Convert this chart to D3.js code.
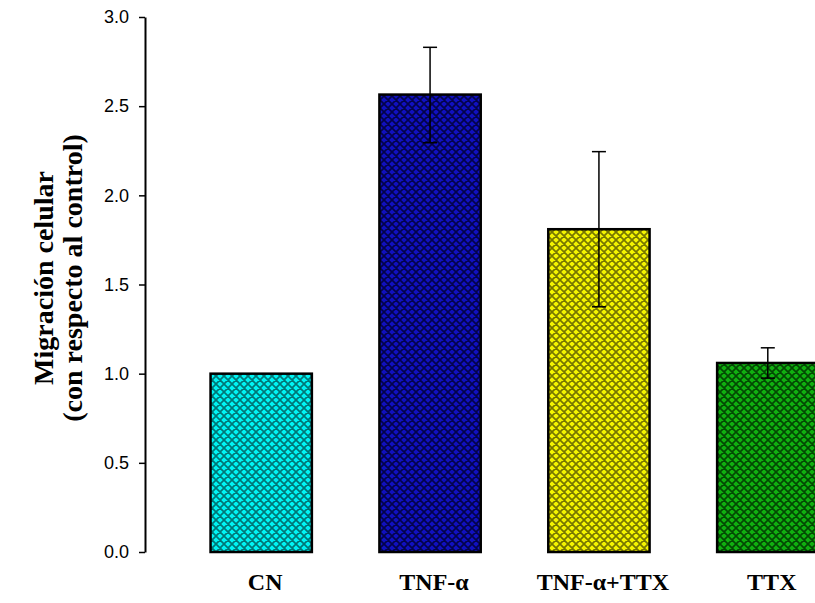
<!DOCTYPE html>
<html lang="es">
<head>
<meta charset="UTF-8">
<title>Migración celular</title>
<script src="https://d3js.org/d3.v7.min.js"></script>
<style>
    body { margin: 0; background: #fff; }
    .tick text { font-family: "Liberation Sans", Arial, sans-serif; font-size: 18px; fill: #000; }
    .cat { font-family: "Liberation Serif", "Times New Roman", serif; font-weight: bold; font-size: 24px; }
    .ytitle { font-family: "Liberation Serif", "Times New Roman", serif; font-weight: bold; font-size: 28px; }
</style>
</head>
<body>
<svg id="chart" width="815" height="603"></svg>
<script>
    // data
    const categories = ["CN", "TNF-\u03b1", "TNF-\u03b1+TTX", "TTX"];
    const means = [1.0, 2.565, 1.81, 1.06];
    const errUp = [null, 2.83, 2.245, 1.145];
    const errDown = [null, 2.295, 1.375, 0.975];
    const yTicks = [0, 0.5, 1.0, 1.5, 2.0, 2.5, 3.0];
    const baseColors = ["#00f4f4", "#1010c0", "#f4f400", "#10b010"];
    const lineColors = ["#005858", "#000030", "#585800", "#003000"];

    const svg = d3.select("#chart");

    const y = d3.scaleLinear().domain([0, 3]).range([552, 17]);
    const x = d3.scaleBand().domain(categories).range([143, 886]).padding(0.4);

    // hatch patterns, one per bar colour
    const defs = svg.append("defs");
    categories.forEach((c, i) => {
        const p = defs.append("pattern")
            .attr("id", "hatch" + i)
            .attr("patternUnits", "userSpaceOnUse")
            .attr("width", 8).attr("height", 8);
        p.append("rect").attr("width", 8).attr("height", 8).attr("fill", baseColors[i]);
        p.append("path")
            .attr("d", "M0,0L8,8M8,0L0,8M-1,7L1,9M7,-1L9,1")
            .attr("stroke", lineColors[i])
            .attr("stroke-width", 1.7)
            .attr("stroke-opacity", 0.8);
    });

    // bars
    svg.append("g").selectAll("rect")
        .data(categories)
        .enter().append("rect")
        .attr("x", d => x(d))
        .attr("y", (d, i) => y(means[i]))
        .attr("width", x.bandwidth())
        .attr("height", (d, i) => y(0) - y(means[i]))
        .attr("fill", (d, i) => "url(#hatch" + i + ")")
        .attr("stroke", "#000")
        .attr("stroke-width", 2.5);

    // error bars
    const eb = svg.append("g").attr("stroke", "#000").attr("stroke-width", 1.5);
    categories.forEach((c, i) => {
        if (errUp[i] == null) return;
        const cx = x(c) + x.bandwidth() / 2;
        eb.append("line").attr("x1", cx).attr("x2", cx).attr("y1", y(errUp[i])).attr("y2", y(errDown[i]));
        eb.append("line").attr("x1", cx - 7).attr("x2", cx + 7).attr("y1", y(errUp[i])).attr("y2", y(errUp[i]));
        eb.append("line").attr("x1", cx - 7).attr("x2", cx + 7).attr("y1", y(errDown[i])).attr("y2", y(errDown[i]));
    });

    // y axis
    const yAxis = svg.append("g")
        .attr("transform", "translate(145,0)")
        .call(d3.axisLeft(y).tickValues(yTicks).tickFormat(d3.format(".1f")).tickSize(6).tickSizeOuter(0).tickPadding(10));
    yAxis.select(".domain").attr("stroke-width", 2);
    yAxis.selectAll(".tick line").attr("stroke-width", 1.5);

    // category labels
    svg.append("g").selectAll("text")
        .data(categories)
        .enter().append("text")
        .attr("class", "cat")
        .attr("x", d => x(d) + x.bandwidth() / 2 + 4)
        .attr("y", 590)
        .attr("text-anchor", "middle")
        .text(d => d);

    // y title
    const yt = svg.append("text")
        .attr("class", "ytitle")
        .attr("transform", "translate(57,278) rotate(-90)")
        .attr("text-anchor", "middle");
    yt.append("tspan").attr("x", 0).attr("dy", "-0.15em").text("Migración celular");
    yt.append("tspan").attr("x", 0).attr("dy", "1.05em").text("(con respecto al control)");
</script>
</body>
</html>
